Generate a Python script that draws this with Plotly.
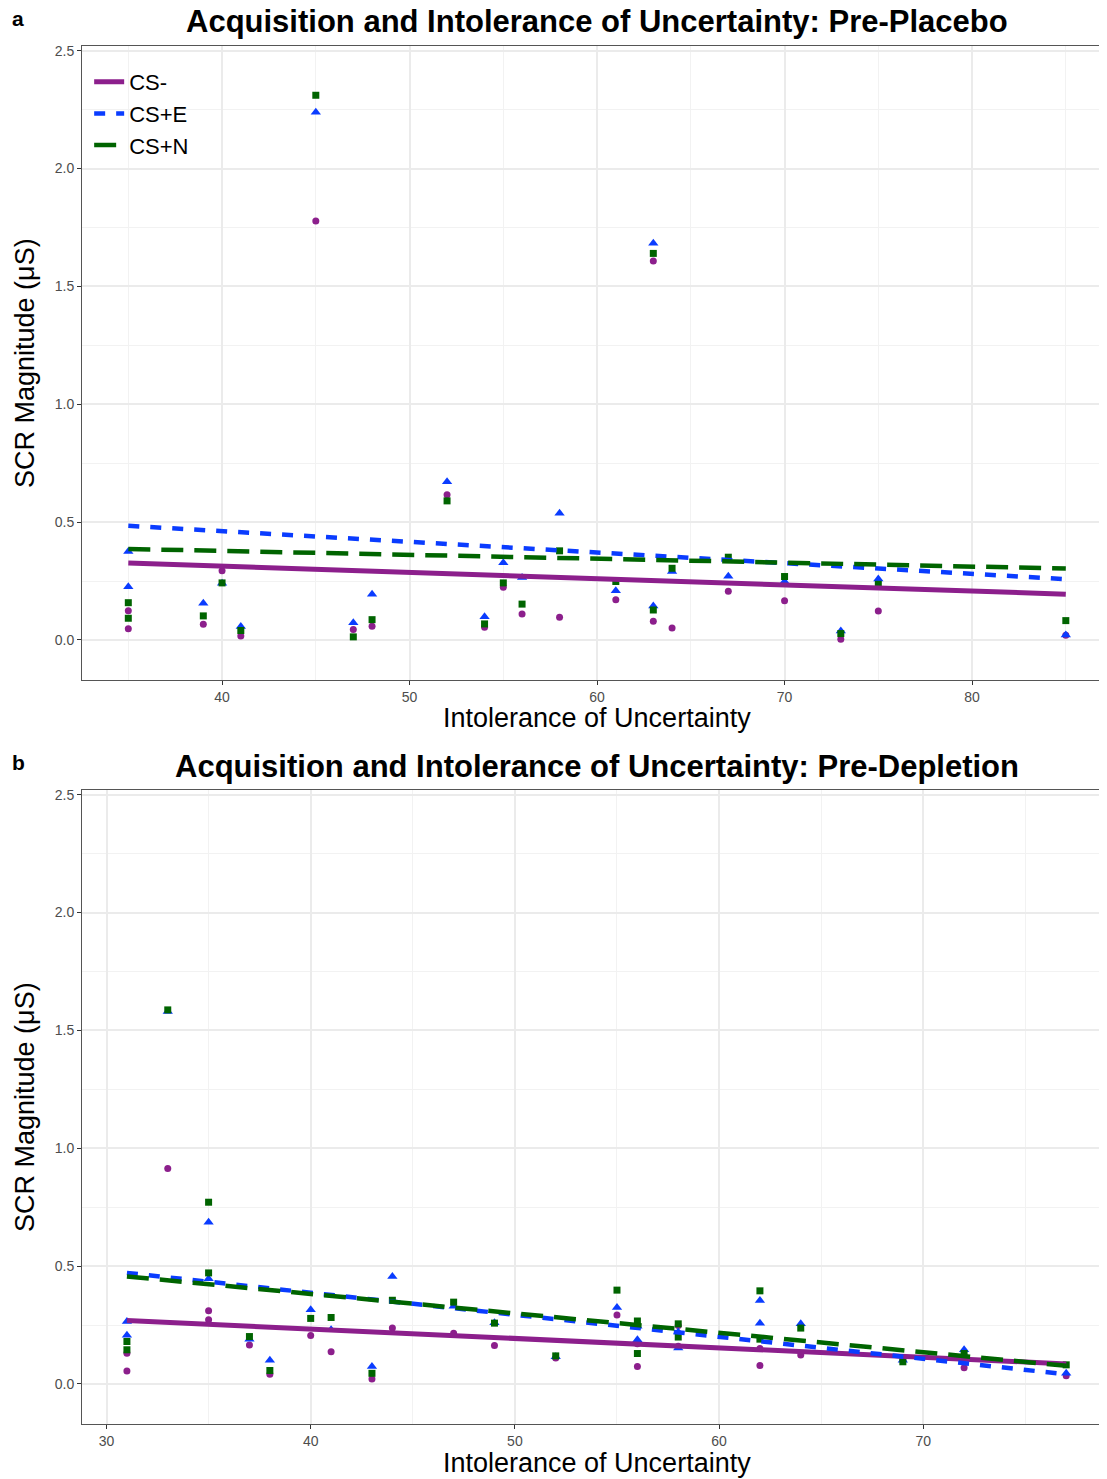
import plotly.graph_objects as go
from plotly.subplots import make_subplots

# ---------------- data ----------------
# Panel a: Pre-Placebo
a_iu = [35, 35, 39, 40, 41, 45, 47, 48, 52, 54, 55, 56, 58, 61, 63, 63, 64, 67, 70, 73, 75, 85]
a_csm = [0.124, 0.047, 0.067, 0.294, 0.017, 1.778, 0.044, 0.058, 0.616, 0.054, 0.224, 0.110,
         0.096, 0.171, 1.608, 0.079, 0.051, 0.207, 0.166, 0.003, 0.123, 0.020]
a_cse = [0.375, 0.226, 0.156, 0.240, 0.057, 2.239, 0.073, 0.194, 0.671, 0.098, 0.328, 0.265,
         0.538, 0.209, 1.683, 0.144, 0.290, 0.270, 0.248, 0.038, 0.259, 0.021]
a_csn = [0.158, 0.092, 0.102, 0.242, 0.040, 2.311, 0.013, 0.086, 0.590, 0.068, 0.242, 0.152,
         0.378, 0.248, 1.640, 0.127, 0.304, 0.351, 0.269, 0.027, 0.236, 0.082]

# Panel b: Pre-Depletion
b_iu = [31, 31, 33, 35, 35, 37, 38, 40, 41, 43, 44, 47, 49, 52, 55, 56, 56, 58, 58, 62, 62, 64, 69, 72, 77]
b_csm = [0.130, 0.055, 0.914, 0.310, 0.272, 0.165, 0.041, 0.205, 0.137, 0.021, 0.237, 0.215, 0.163,
         0.110, 0.293, 0.170, 0.074, 0.248, 0.160, 0.150, 0.078, 0.123, 0.100, 0.069, 0.035]
b_cse = [0.265, 0.207, 1.580, 0.686, 0.446, 0.190, 0.101, 0.315, 0.230, 0.074, 0.456, 0.330, 0.260,
         0.115, 0.324, 0.245, 0.187, 0.220, 0.152, 0.354, 0.258, 0.255, 0.100, 0.145, 0.045]
b_csn = [0.180, 0.145, 1.587, 0.771, 0.471, 0.201, 0.057, 0.278, 0.282, 0.045, 0.355, 0.347, 0.258,
         0.119, 0.398, 0.267, 0.129, 0.255, 0.199, 0.395, 0.190, 0.237, 0.094, 0.129, 0.081]

# Linear fit lines (values read at the ends of the data range)
fit_a_x = [35, 85]
fit_a_csm = [0.326, 0.194]
fit_a_cse = [0.484, 0.258]
fit_a_csn = [0.386, 0.303]
fit_b_x = [31, 77]
fit_b_csm = [0.269, 0.085]
fit_b_cse = [0.471, 0.041]
fit_b_csn = [0.456, 0.077]

series_names = ["CS-", "CS+E", "CS+N"]
titles = ["Acquisition and Intolerance of Uncertainty: Pre-Placebo",
          "Acquisition and Intolerance of Uncertainty: Pre-Depletion"]
x_title = "Intolerance of Uncertainty"
y_title = "SCR Magnitude (μS)"

# ---------------- style ----------------
COL = ["#8C1F8C", "#0A3CFF", "#006400"]
SYM = ["circle", "triangle-up", "square"]
MSZ = [7, 9, 7]
DASH = ["solid", "11px,11px", "22px,11px"]
LW = [5, 4.5, 4.5]
FONT = "Liberation Sans, Arial, sans-serif"

OFF = 8  # page body margin offset
W, H = 1107 - OFF, 1479 - OFF
L, R, T, B = 82 - OFF, 2, 46 - OFF, 55
plot_h = H - T - B

fig = make_subplots(rows=2, cols=1, vertical_spacing=110 / plot_h)

panels = [
    (a_iu, [a_csm, a_cse, a_csn], fit_a_x, [fit_a_csm, fit_a_cse, fit_a_csn]),
    (b_iu, [b_csm, b_cse, b_csn], fit_b_x, [fit_b_csm, fit_b_cse, fit_b_csn]),
]

for r, (xs, ys_list, fx, fys) in enumerate(panels, start=1):
    for i, ys in enumerate(ys_list):
        fig.add_trace(go.Scatter(
            x=xs, y=ys, mode="markers",
            marker=dict(color=COL[i], symbol=SYM[i], size=MSZ[i], line=dict(width=0)),
            showlegend=False, hoverinfo="skip"), row=r, col=1)
    for i, fy in enumerate(fys):
        fig.add_trace(go.Scatter(
            x=fx, y=fy, mode="lines", name=series_names[i],
            line=dict(color=COL[i], width=LW[i], dash=DASH[i]),
            showlegend=(r == 1), legendgroup=series_names[i]), row=r, col=1)

axis_common = dict(
    showgrid=True, gridcolor="#EBEBEB", gridwidth=1.6,
    showline=True, linecolor="#555555", linewidth=1, mirror=True,
    ticks="outside", ticklen=4, tickcolor="#333333",
    tickfont=dict(family=FONT, size=14, color="#4D4D4D"),
    zeroline=False,
)

fig.update_xaxes(**axis_common)
fig.update_yaxes(**axis_common)

fig.update_xaxes(range=[32.53, 87.09], tick0=40, dtick=10,
                 minor=dict(showgrid=True, gridcolor="#F2F2F2", gridwidth=1, tick0=35, dtick=10, ticks=""),
                 row=1, col=1)
fig.update_xaxes(range=[28.8, 78.9], tick0=30, dtick=10,
                 minor=dict(showgrid=True, gridcolor="#F2F2F2", gridwidth=1, tick0=35, dtick=10, ticks=""),
                 row=2, col=1)
for r in (1, 2):
    fig.update_yaxes(range=[-0.17, 2.52], tick0=0, dtick=0.5, tickformat=".1f",
                     minor=dict(showgrid=True, gridcolor="#F2F2F2", gridwidth=1, tick0=0.25, dtick=0.5, ticks=""),
                     row=r, col=1)


def py(pix):  # reference pixel -> paper y
    return (H - B - (pix - OFF)) / plot_h


def px(pix):  # reference pixel -> paper x
    return ((pix - OFF) - L) / (W - L - R)


ann = []
for title, ty in zip(titles, [21, 766]):
    ann.append(dict(text="<b>%s</b>" % title, x=px(597), y=py(ty), xref="paper", yref="paper",
                    showarrow=False, xanchor="center", yanchor="middle",
                    font=dict(family=FONT, size=31, color="black")))
for lab, ly in zip(["a", "b"], [18, 762]):
    ann.append(dict(text="<b>%s</b>" % lab, x=px(18), y=py(ly), xref="paper", yref="paper",
                    showarrow=False, xanchor="center", yanchor="middle",
                    font=dict(family=FONT, size=21, color="black")))
for ty in [718, 1463]:
    ann.append(dict(text=x_title, x=px(597), y=py(ty), xref="paper", yref="paper",
                    showarrow=False, xanchor="center", yanchor="middle",
                    font=dict(family=FONT, size=27, color="black")))
for cy in [363, 1107]:
    ann.append(dict(text=y_title, x=px(25), y=py(cy), xref="paper", yref="paper",
                    showarrow=False, xanchor="center", yanchor="middle", textangle=-90,
                    font=dict(family=FONT, size=27, color="black")))

fig.update_layout(
    width=W, height=H,
    margin=dict(l=L, r=R, t=T, b=B),
    plot_bgcolor="white", paper_bgcolor="white",
    font=dict(family=FONT),
    annotations=ann,
    legend=dict(x=0.007, y=py(61), xanchor="left", yanchor="top",
                bgcolor="rgba(255,255,255,0)", font=dict(family=FONT, size=22, color="black"),
                itemwidth=30, tracegroupgap=0),
)

fig.write_html("out.html")
